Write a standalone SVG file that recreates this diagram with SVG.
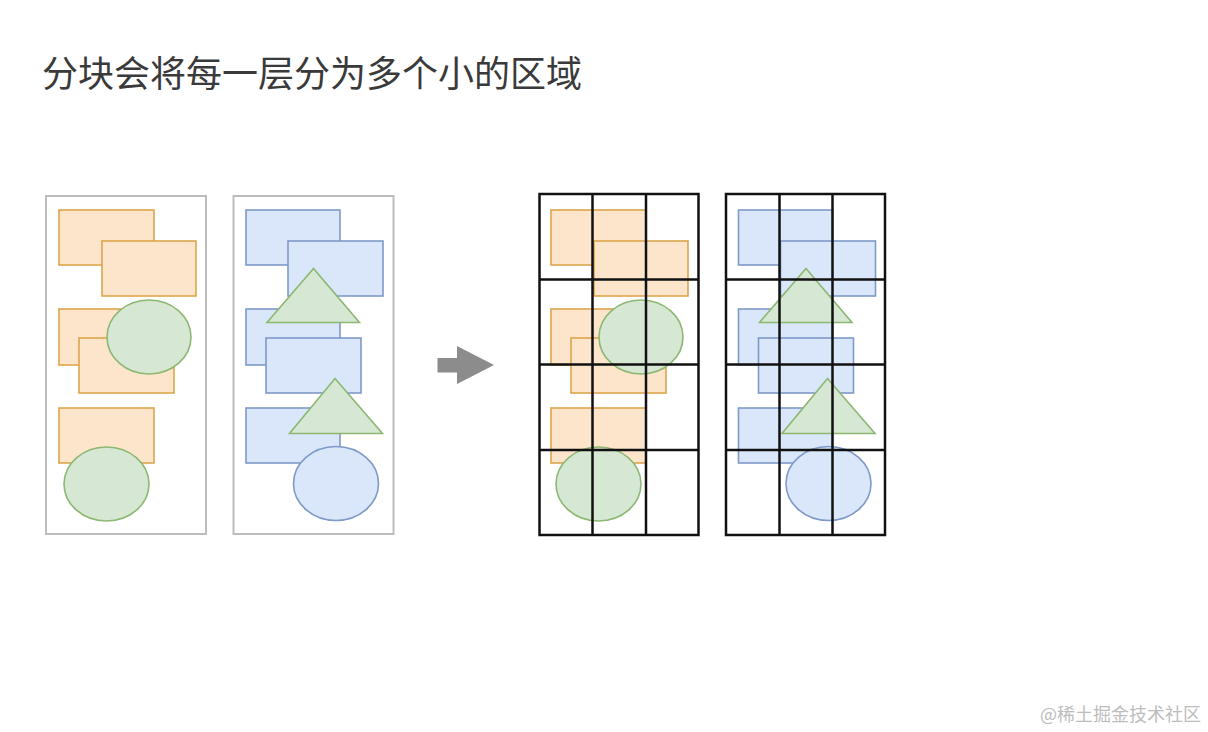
<svg xmlns="http://www.w3.org/2000/svg" width="1208" height="732" viewBox="0 0 1208 732">
<defs>
<style>
.o{fill:#fde5cc;stroke:#dca54a;stroke-width:1.6}
.b{fill:#dae7fb;stroke:#7f99c8;stroke-width:1.6}
.g{fill:#d6e7d3;stroke:#8cb872;stroke-width:1.6}
.frame{fill:#fff;stroke:#bdbdbd;stroke-width:2}
.grid{fill:none;stroke:#111;stroke-width:2.5}
.title{font-family:"Noto Sans CJK SC","Noto Sans",sans-serif;font-size:36px;fill:#3a3a3a}
.wm{font-family:"Noto Sans CJK SC","Noto Sans",sans-serif;font-size:18px;fill:#bdbdbd}
</style>
<g id="layerA">
<rect class="o" x="59" y="210" width="95" height="55"/>
<rect class="o" x="102" y="241" width="94" height="55"/>
<rect class="o" x="59" y="309" width="95" height="56"/>
<rect class="o" x="79" y="338" width="95" height="55"/>
<ellipse class="g" cx="149" cy="337" rx="42" ry="37"/>
<rect class="o" x="59" y="408" width="95" height="55"/>
<ellipse class="g" cx="106.5" cy="484" rx="42.5" ry="37"/>
</g>
<g id="layerB">
<rect class="b" x="246" y="210" width="94" height="55"/>
<rect class="b" x="288" y="241" width="95" height="55"/>
<rect class="b" x="246" y="309" width="94" height="56"/>
<rect class="b" x="266" y="338" width="95" height="55"/>
<rect class="b" x="246" y="408" width="94" height="55"/>
<polygon class="g" points="313.5,268.5 359.5,322.5 267,322.5"/>
<polygon class="g" points="335,378.5 382.5,433.5 289.5,433.5"/>
<ellipse class="b" cx="336" cy="483.5" rx="42.5" ry="37"/>
</g>
</defs>
<rect width="1208" height="732" fill="#fff"/>
<text class="title" x="42" y="87">分块会将每一层分为多个小的区域</text>
<g id="panel-orange">
<rect class="frame" x="46" y="196" width="160" height="338"/>
<use href="#layerA"/>
</g>
<g id="panel-blue">
<rect class="frame" x="233.5" y="196" width="160" height="338"/>
<use href="#layerB"/>
</g>
<g id="connectors">
<polygon points="437.5,358 457,358 457,346 494,365 457,384 457,372.5 437.5,372.5" fill="#8c8c8c"/>
</g>
<g id="grid-orange">
<use href="#layerA" transform="translate(492,0)"/>
<path class="grid" d="M539.5,194H698.5V535H539.5Z M592.5,194V535 M646,194V535 M539.5,279.5H698.5 M539.5,364.5H698.5 M539.5,450H698.5"/>
</g>
<g id="grid-blue">
<use href="#layerB" transform="translate(492.5,0)"/>
<path class="grid" d="M726,194H885V535H726Z M779.5,194V535 M832.5,194V535 M726,279.5H885 M726,364.5H885 M726,450H885"/>
</g>
<text class="wm" x="1201" y="721" text-anchor="end">@稀土掘金技术社区</text>
</svg>
